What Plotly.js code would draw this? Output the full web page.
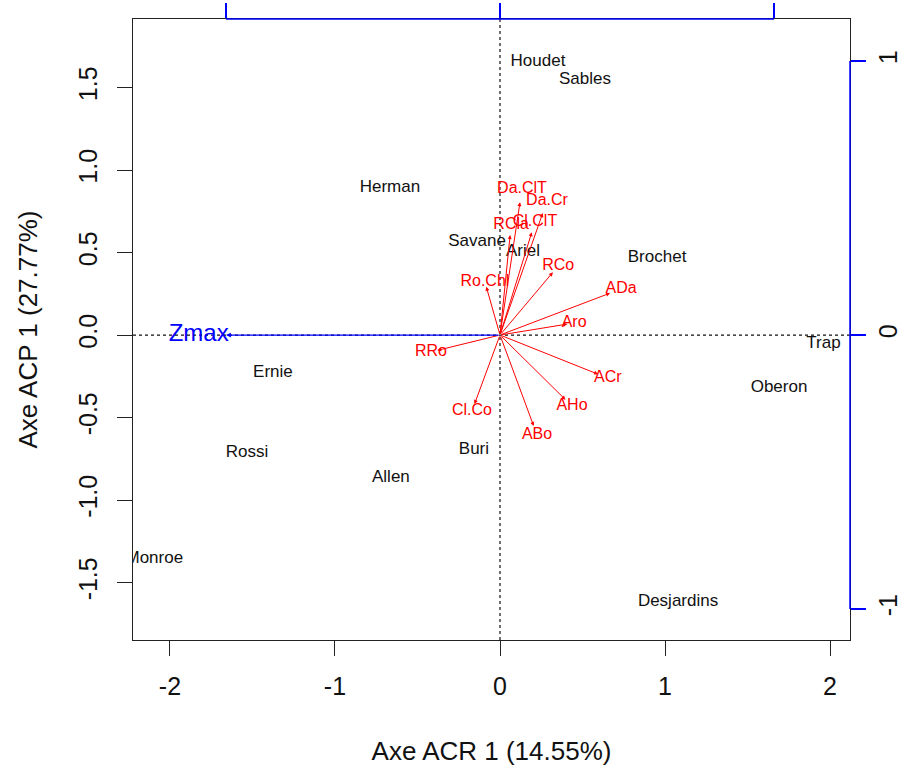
<!DOCTYPE html>
<html>
<head>
<meta charset="utf-8">
<script src="https://cdn.plot.ly/plotly-3.0.1.min.js"></script>
<style>
  html, body { margin: 0; padding: 0; background: #ffffff; }
  #chart { width: 909px; height: 772px; }
</style>
</head>
<body>
<div id="chart"></div>
<script>
// Site scores (primary axes)
const siteNames = ["Houdet", "Sables", "Herman", "Savane", "Ariel", "Brochet", "Trap",
                   "Oberon", "Ernie", "Rossi", "Allen", "Buri", "Monroe", "Desjardins"];
const siteX = [0.230, 0.515, -0.667, -0.139, 0.139, 0.952, 1.960,
               1.691, -1.376, -1.533, -0.661, -0.158, -2.095, 1.079];
const siteY = [1.655, 1.545, 0.891, 0.564, 0.503, 0.467, -0.055,
               -0.321, -0.230, -0.715, -0.867, -0.697, -1.355, -1.618];

// Variable loadings (secondary axes, -1..1 scale)
const varNames = ["Da.ClT", "Da.Cr", "Cl.ClT", "RCla", "RCo", "Ro.Chl", "ADa",
                  "Aro", "RRo", "ACr", "AHo", "Cl.Co", "ABo"];
const varX = [0.073, 0.156, 0.116, 0.037, 0.193, -0.050, 0.402,
              0.246, -0.229, 0.358, 0.239, -0.093, 0.123];
const varY = [0.485, 0.445, 0.375, 0.365, 0.229, 0.176, 0.153,
              0.040, -0.056, -0.143, -0.236, -0.252, -0.332];

// Supplementary variable
const supName = ["Zmax"];
const supX = [-1.0];
const supY = [0.0];

// Tick labels
const xTickVals = [-2, -1, 0, 1, 2];
const xTickText = ["-2", "-1", "0", "1", "2"];
const yTickVals = [-1.5, -1.0, -0.5, 0.0, 0.5, 1.0, 1.5];
const yTickText = ["-1.5", "-1.0", "-0.5", "0.0", "0.5", "1.0", "1.5"];
const secTickVals = [-1, 0, 1];
const secTickText = ["-1", "0", "1"];

const xTitle = "Axe ACR 1 (14.55%)";
const yTitle = "Axe ACP 1 (27.77%)";

// Scaling between score axes and loading axes
const k = 1.66;
const xRange = [-2.224, 2.121];
const yRange = [-1.848, 1.915];
const labelPush = 1.1;

const FONT = "Liberation Sans, Arial, sans-serif";
const RED = "#ff0000";
const BLUE = "#0000ff";

const traces = [
  {
    type: "scatter", mode: "text",
    x: siteX, y: siteY, text: siteNames,
    textposition: "middle center",
    textfont: { family: FONT, size: 17, color: "#111111" },
    cliponaxis: true, hoverinfo: "text", showlegend: false,
    xaxis: "x", yaxis: "y"
  },
  {
    type: "scatter", mode: "text",
    x: varX.map(v => v * labelPush), y: varY.map(v => v * labelPush), text: varNames,
    textposition: "middle center",
    textfont: { family: FONT, size: 16, color: RED },
    cliponaxis: true, hoverinfo: "text", showlegend: false,
    xaxis: "x2", yaxis: "y2"
  },
  {
    type: "scatter", mode: "text",
    x: supX.map(v => v * labelPush), y: supY.map(v => v * labelPush), text: supName,
    textposition: "middle center",
    textfont: { family: FONT, size: 24, color: BLUE },
    cliponaxis: true, hoverinfo: "text", showlegend: false,
    xaxis: "x2", yaxis: "y2"
  }
];

// Arrows from the origin to each loading
const arrows = [];
varNames.forEach((n, i) => {
  arrows.push({
    xref: "x2", yref: "y2", axref: "x2", ayref: "y2",
    x: varX[i], y: varY[i], ax: 0, ay: 0,
    text: "", showarrow: true,
    arrowhead: 2, arrowsize: 0.8, arrowwidth: 1, arrowcolor: RED
  });
});
supName.forEach((n, i) => {
  arrows.push({
    xref: "x2", yref: "y2", axref: "x2", ayref: "y2",
    x: supX[i], y: supY[i], ax: 0, ay: 0,
    text: "", showarrow: true,
    arrowhead: 2, arrowsize: 0.8, arrowwidth: 1.2, arrowcolor: BLUE
  });
});

const tickFont = { family: FONT, size: 25, color: "#111111" };

const layout = {
  width: 909, height: 772,
  margin: { l: 133, r: 59, t: 19, b: 132 },
  paper_bgcolor: "#ffffff", plot_bgcolor: "#ffffff",
  showlegend: false,
  xaxis: {
    range: xRange, tickvals: xTickVals, ticktext: xTickText,
    ticks: "outside", ticklen: 15, tickwidth: 1, tickcolor: "#222222",
    showline: true, mirror: true, linecolor: "#222222", linewidth: 1,
    showgrid: false, zeroline: false, tickfont: tickFont,
    ticklabelstandoff: 9,
    title: { text: xTitle, font: { family: FONT, size: 26, color: "#111111" }, standoff: 42 }
  },
  yaxis: {
    range: yRange, tickvals: yTickVals, ticktext: yTickText, tickangle: -90,
    ticks: "outside", ticklen: 15, tickwidth: 1, tickcolor: "#222222",
    showline: true, mirror: true, linecolor: "#222222", linewidth: 1,
    showgrid: false, zeroline: false, tickfont: tickFont,
    ticklabelstandoff: 10,
    title: { text: yTitle, font: { family: FONT, size: 26, color: "#111111" }, standoff: 28 }
  },
  xaxis2: {
    overlaying: "x", side: "top", anchor: "y",
    range: xRange.map(v => v / k), tickvals: secTickVals,
    showticklabels: false,
    ticks: "outside", ticklen: 15, tickwidth: 1.2, tickcolor: BLUE,
    showline: false, showgrid: false, zeroline: false
  },
  yaxis2: {
    overlaying: "y", side: "right", anchor: "x",
    range: yRange.map(v => v / k), tickvals: secTickVals, ticktext: secTickText,
    tickangle: -90,
    ticks: "outside", ticklen: 15, tickwidth: 1.2, tickcolor: BLUE,
    showline: false, showgrid: false, zeroline: false, tickfont: tickFont,
    ticklabelstandoff: 1
  },
  shapes: [
    // dotted reference lines through the origin
    { type: "line", xref: "x", yref: "paper", x0: 0, x1: 0, y0: 0, y1: 1,
      line: { color: "#111111", width: 1.2, dash: "dot" }, layer: "below" },
    { type: "line", xref: "paper", yref: "y", x0: 0, x1: 1, y0: 0, y1: 0,
      line: { color: "#111111", width: 1.2, dash: "dot" }, layer: "below" },
    // blue secondary axis lines spanning the tick range
    { type: "line", xref: "x2", yref: "paper", x0: secTickVals[0], x1: secTickVals[2], y0: 1, y1: 1,
      line: { color: BLUE, width: 1.5 } },
    { type: "line", xref: "paper", yref: "y2", x0: 1, x1: 1, y0: secTickVals[0], y1: secTickVals[2],
      line: { color: BLUE, width: 1.5 } }
  ],
  annotations: arrows
};

Plotly.newPlot("chart", traces, layout, { staticPlot: true, displayModeBar: false });
</script>
</body>
</html>
